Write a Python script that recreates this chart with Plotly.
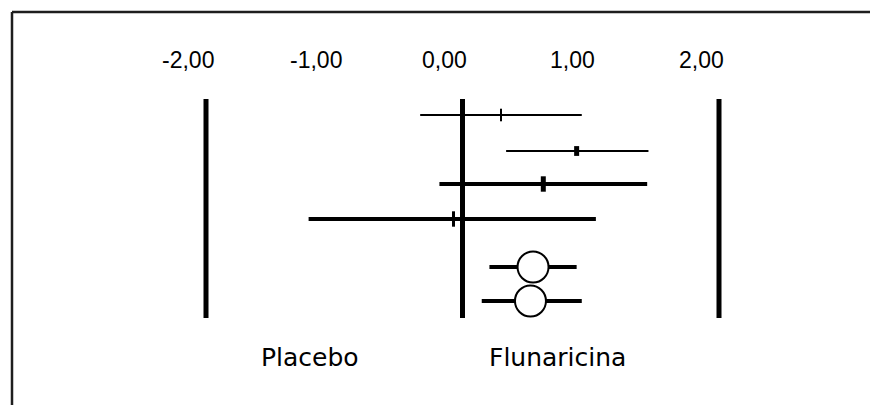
import plotly.graph_objects as go

# ---- data ----
estimates = [0.30, 0.89, 0.63, -0.07, 0.55, 0.53]
lower = [-0.33, 0.34, -0.18, -1.20, 0.21, 0.15]
upper = [0.93, 1.45, 1.44, 1.04, 0.89, 0.93]
tick_values = [-2, -1, 0, 1, 2]
tick_labels = ["-2,00", "-1,00", "0,00", "1,00", "2,00"]
group_labels = ["Placebo", "Flunaricina"]

# ---- layout / style (not data) ----
W, H = 870, 405
row_y = [115, 151, 184, 219, 267, 301]
line_w = [2, 2, 4, 4, 4, 4]
marker_kind = ["tick", "tick", "tick", "tick", "circle", "circle"]
marker_size = [9, 7, 11, 11, 31, 31]
marker_lw = [2, 5, 5, 3, 2, 2]
px_per_unit = 128.25
x_zero_px = 462.5
x_min = -x_zero_px / px_per_unit
x_max = (W - x_zero_px) / px_per_unit
TICK_FONT = "Liberation Sans"
LABEL_FONT = "DejaVu Sans"

fig = go.Figure()

for i in range(len(estimates)):
    fig.add_trace(go.Scatter(
        x=[lower[i], upper[i]], y=[row_y[i], row_y[i]],
        mode="lines", line=dict(color="black", width=line_w[i]),
        hoverinfo="skip", showlegend=False))
for i in range(len(estimates)):
    if marker_kind[i] == "circle":
        m = dict(symbol="circle", size=marker_size[i], color="white",
                 line=dict(color="black", width=marker_lw[i]))
    else:
        m = dict(symbol="line-ns", size=marker_size[i], color="black",
                 line=dict(color="black", width=marker_lw[i]))
    fig.add_trace(go.Scatter(
        x=[estimates[i]], y=[row_y[i]], mode="markers", marker=m,
        showlegend=False))

# reference vertical lines
for v in [-2, 0, 2]:
    fig.add_shape(type="line", x0=v, x1=v, y0=99, y1=318,
                  xref="x", yref="y", line=dict(color="black", width=5),
                  layer="below")

# frame (left and top edges)
fig.add_shape(type="line", xref="paper", yref="paper",
              x0=12 / W, x1=1, y0=1 - 12 / H, y1=1 - 12 / H,
              line=dict(color="#1e1e1e", width=2.5))
fig.add_shape(type="line", xref="paper", yref="paper",
              x0=12 / W, x1=12 / W, y0=1 - 12 / H, y1=0,
              line=dict(color="#1e1e1e", width=2.5))

# tick labels
for v, t in zip(tick_values, tick_labels):
    fig.add_annotation(x=v, y=60, xref="x", yref="y", text=t,
                       showarrow=False, xshift=-18,
                       font=dict(family=TICK_FONT, size=23, color="black"))

# group labels
fig.add_annotation(x=-1.19, y=357, xref="x", yref="y", text=group_labels[0],
                   showarrow=False,
                   font=dict(family=LABEL_FONT, size=25, color="black"))
fig.add_annotation(x=0.74, y=357, xref="x", yref="y", text=group_labels[1],
                   showarrow=False,
                   font=dict(family=LABEL_FONT, size=25, color="black"))

fig.update_layout(
    width=W, height=H, margin=dict(l=0, r=0, t=0, b=0),
    paper_bgcolor="white", plot_bgcolor="white",
    xaxis=dict(range=[x_min, x_max], visible=False, fixedrange=True),
    yaxis=dict(range=[H, 0], visible=False, fixedrange=True),
)

fig.write_html("out.html", config={"displayModeBar": False},
               post_script="document.body.style.margin='0';")
